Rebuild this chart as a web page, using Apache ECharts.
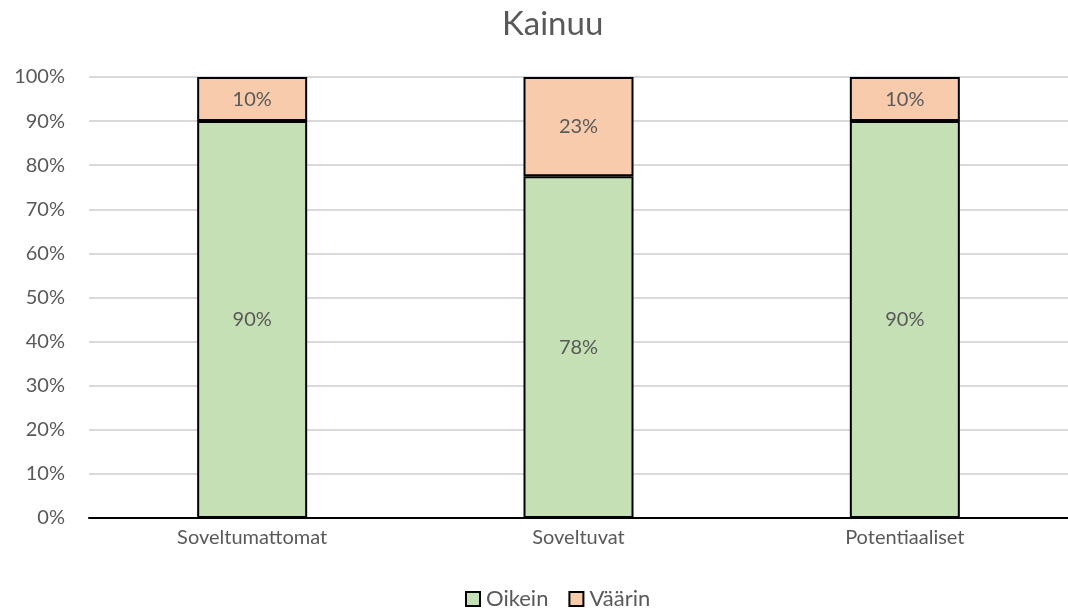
<!DOCTYPE html>
<html>
<head>
<meta charset="utf-8">
<script src="https://cdn.jsdelivr.net/npm/echarts@6/dist/echarts.min.js"></script>
<style>
  html, body { margin: 0; padding: 0; background: #fff; }
  #chart { width: 1068px; height: 610px; }
</style>
</head>
<body>
<div id="chart"></div>
<script>
// data
const categories = ['Soveltumattomat', 'Soveltuvat', 'Potentiaaliset'];
const oikein = [90, 77.5, 90];
const vaarin = [10, 22.5, 10];
const yTicks = [0, 10, 20, 30, 40, 50, 60, 70, 80, 90, 100];

const font = 'Lato, "Open Sans", sans-serif';
const textColor = '#595959';

const myChart = echarts.init(document.getElementById('chart'));

function segLabel() {
  return {
    show: true,
    position: 'inside',
    color: textColor,
    fontFamily: font,
    fontSize: 20,
    formatter: p => Math.round(p.value) + '%'
  };
}

const option = {
  animation: false,
  title: {
    text: 'Kainuu',
    left: 497,
    top: 3,
    textStyle: { color: textColor, fontFamily: font, fontSize: 33, fontWeight: 'normal' }
  },
  legend: {
    top: 588,
    left: 465,
    padding: 0,
    itemWidth: 14,
    itemHeight: 14,
    itemGap: 20,
    icon: 'rect',
    textStyle: { color: textColor, fontFamily: font, fontSize: 22, padding: [0, 0, 0, 1] },
    data: ['Oikein', 'Väärin']
  },
  grid: { left: 89, top: 77, width: 990, height: 441 },
  xAxis: {
    type: 'category',
    data: categories,
    axisLine: { lineStyle: { color: '#000', width: 2 } },
    axisTick: { show: false },
    axisLabel: { color: textColor, fontFamily: font, fontSize: 20, margin: 10 }
  },
  yAxis: {
    type: 'value',
    min: yTicks[0],
    max: yTicks[yTicks.length - 1],
    interval: 10,
    axisLine: { show: false },
    axisTick: { show: false },
    splitLine: { lineStyle: { color: '#d9d9d9', width: 2 } },
    axisLabel: { color: textColor, fontFamily: font, fontSize: 20, margin: 24, formatter: '{value}%' }
  },
  series: [
    {
      name: 'Oikein',
      type: 'bar',
      stack: 'total',
      barWidth: 110,
      data: oikein,
      itemStyle: { color: '#c5e0b4', borderColor: '#000', borderWidth: 2 },
      label: segLabel()
    },
    {
      name: 'Väärin',
      type: 'bar',
      stack: 'total',
      barWidth: 110,
      data: vaarin,
      itemStyle: { color: '#f8cbad', borderColor: '#000', borderWidth: 2 },
      label: segLabel()
    }
  ]
};

myChart.setOption(option);
</script>
</body>
</html>
